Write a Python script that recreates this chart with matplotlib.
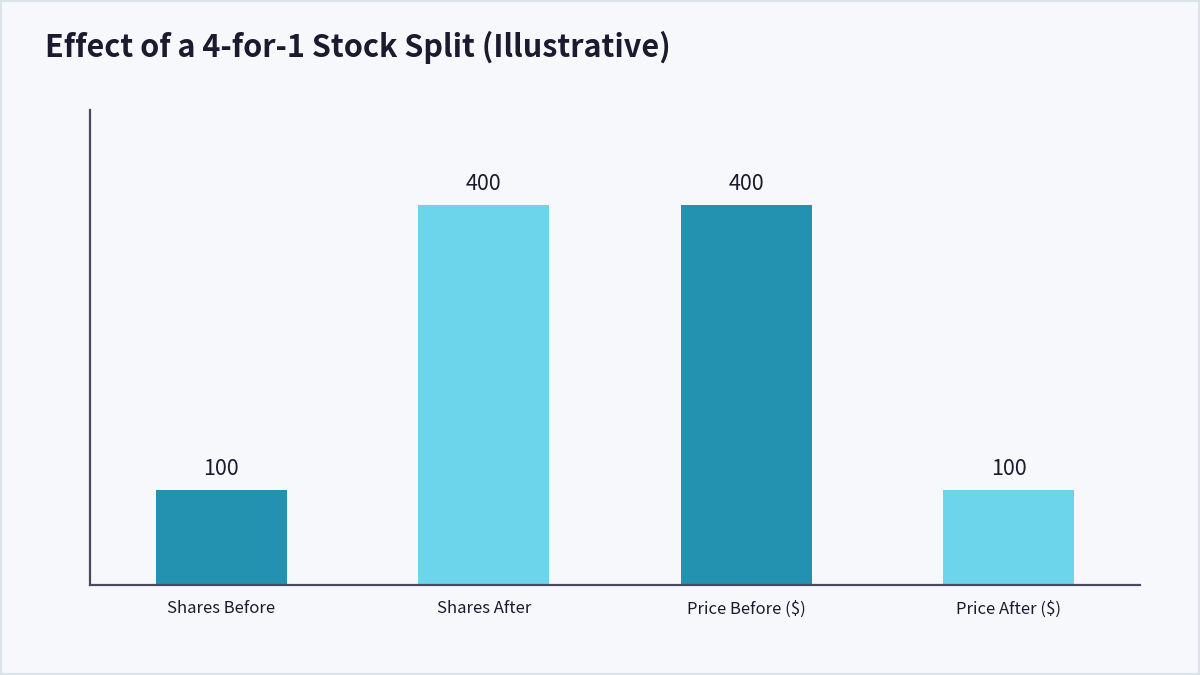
import matplotlib.pyplot as plt
from matplotlib.patches import Rectangle

# data
categories = ["Shares Before", "Shares After", "Price Before ($)", "Price After ($)"]
values = [100, 400, 400, 100]
bar_colors = ["#2391b0", "#6cd5ec", "#2391b0", "#6cd5ec"]

plt.rcParams['font.family'] = ['Noto Sans CJK KR', 'DejaVu Sans']

BG = "#f7f8fc"
INK = "#1b1a2e"
AXIS = "#4a4862"

fig = plt.figure(figsize=(12, 6.75), dpi=100, facecolor=BG)
# thin frame round the card
fig.patches.append(Rectangle((0, 0), 1, 1, transform=fig.transFigure,
                             fill=False, edgecolor="#dde3ea", linewidth=3))

ax = fig.add_axes([90 / 1200, 90 / 675, 1050 / 1200, 475 / 675])
ax.set_facecolor(BG)

x = range(len(categories))
bars = ax.bar(x, values, width=0.5, color=bar_colors, zorder=2)
for b, v in zip(bars, values):
    ax.text(b.get_x() + b.get_width() / 2, v + 11, str(v), ha="center", va="bottom",
            fontsize=15.5, color=INK)

ax.set_xlim(-0.5, 3.5)
ax.set_ylim(0, 500)
ax.set_xticks(list(x))
ax.set_xticklabels(categories, fontsize=12, color=INK)
ax.tick_params(axis="x", length=0, pad=11)
ax.set_yticks([])

for s in ["top", "right"]:
    ax.spines[s].set_visible(False)
for s in ["left", "bottom"]:
    ax.spines[s].set_color(AXIS)
    ax.spines[s].set_linewidth(1.6)

fig.text(45 / 1200, 1 - 47 / 675, "Effect of a 4-for-1 Stock Split (Illustrative)",
         fontsize=22, fontweight="bold", color=INK, va="center", ha="left")

fig.savefig("out.png", dpi=100, facecolor=BG)
